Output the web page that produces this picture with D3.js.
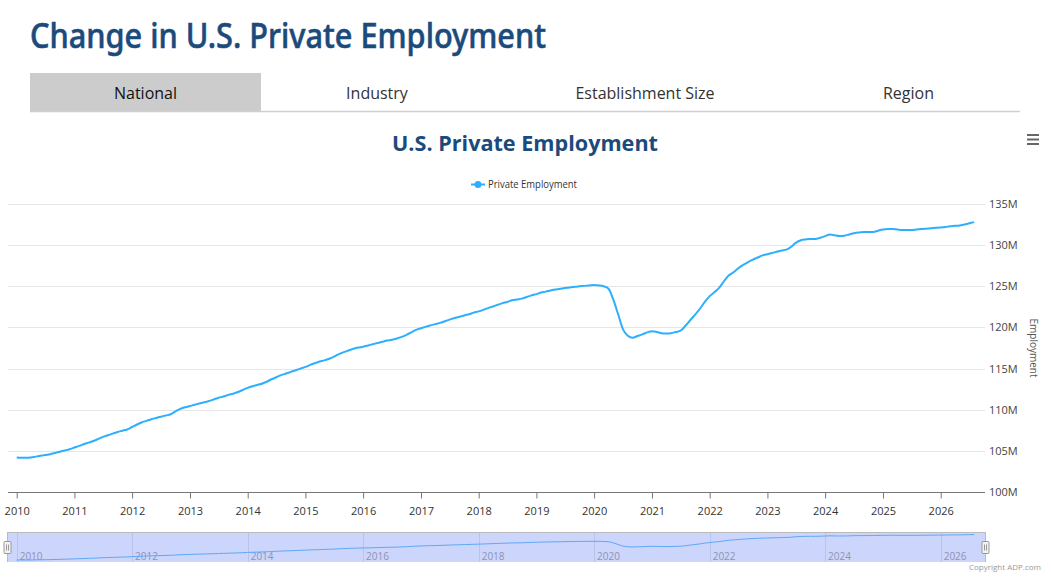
<!DOCTYPE html>
<html><head><meta charset="utf-8">
<script src="https://cdn.jsdelivr.net/npm/d3@7/dist/d3.min.js"></script>
<style>body{margin:0;background:#fff;} svg{display:block;font-family:"Open Sans",sans-serif;}</style>
</head><body><svg id="c" width="1051" height="578"></svg>
<script>
// ---------- DATA (monthly, millions) ----------
const firstYear = 2010;
const v2010 = [104.2,104.15,104.15,104.2,104.3,104.4,104.5,104.6,104.75,104.9,105.05,105.2];
const v2011 = [105.4,105.6,105.8,106.0,106.2,106.45,106.7,106.9,107.1,107.3,107.45,107.6];
const v2012 = [107.9,108.2,108.45,108.65,108.85,109.0,109.15,109.3,109.45,109.8,110.1,110.3];
const v2013 = [110.45,110.6,110.75,110.9,111.05,111.25,111.45,111.6,111.8,111.95,112.15,112.4];
const v2014 = [112.65,112.85,113.0,113.15,113.4,113.7,113.95,114.2,114.4,114.6,114.8,115.0];
const v2015 = [115.2,115.45,115.65,115.85,116.0,116.2,116.45,116.75,117.0,117.2,117.4,117.55];
const v2016 = [117.65,117.8,117.95,118.1,118.25,118.4,118.5,118.65,118.85,119.1,119.4,119.7];
const v2017 = [119.9,120.1,120.25,120.4,120.55,120.75,120.95,121.15,121.3,121.45,121.6,121.8];
const v2018 = [121.95,122.15,122.35,122.55,122.75,122.95,123.1,123.3,123.4,123.5,123.7,123.9];
const v2019 = [124.05,124.25,124.35,124.5,124.6,124.7,124.8,124.85,124.95,125.0,125.05,125.1];
const v2020 = [125.15,125.1,125.0,124.7,123.4,121.6,119.8,119.0,118.75,118.95,119.15,119.4];
const v2021 = [119.55,119.45,119.3,119.25,119.3,119.45,119.6,120.2,120.9,121.55,122.3,123.1];
const v2022 = [123.8,124.3,124.8,125.6,126.3,126.7,127.2,127.6,127.95,128.25,128.5,128.75];
const v2023 = [128.9,129.05,129.2,129.35,129.45,129.8,130.3,130.6,130.7,130.75,130.75,130.9];
const v2024 = [131.1,131.3,131.2,131.1,131.15,131.3,131.45,131.55,131.6,131.6,131.6,131.75];
const v2025 = [131.9,131.95,131.95,131.9,131.85,131.85,131.85,131.9,131.95,132.0,132.05,132.1];
const v2026 = [132.15,132.2,132.3,132.35,132.4,132.5,132.65,132.8];
const yearly = [v2010,v2011,v2012,v2013,v2014,v2015,v2016,v2017,v2018,v2019,v2020,v2021,v2022,v2023,v2024,v2025,v2026];

const seriesName = "Private Employment";
const pageTitle = "Change in U.S. Private Employment";
const chartTitle = "U.S. Private Employment";
const yAxisTitle = "Employment";
const tabLabels = ["National","Industry","Establishment Size","Region"];
const yTickValues = [100,105,110,115,120,125,130,135];
const xTickYears = d3.range(2010, 2027);
const navTickYears = d3.range(2010, 2027, 2);
const copyright = "Copyright ADP.com";

const data = [];
yearly.forEach((arr, yi) => arr.forEach((v, m) => data.push({date: new Date(firstYear + yi, m, 1), value: v})));

// ---------- LAYOUT ----------
const svg = d3.select("#c");
const blue = "#2caffe";
const darkBlue = "#1b4a7c";

svg.append("text").attr("x", 30).attr("y", 48)
  .attr("font-family", "Noto Sans, sans-serif").attr("font-size", 35).attr("font-weight", 500)
  .attr("fill", darkBlue).attr("stroke", darkBlue).attr("stroke-width", 0.6)
  .attr("textLength", 516).attr("lengthAdjust", "spacingAndGlyphs")
  .text(pageTitle);

// tabs
const tabEdges = [30, 261, 493, 797, 1020];
const tabG = svg.append("g");
tabLabels.forEach((t, i) => {
  if (i === 0) tabG.append("rect").attr("x", tabEdges[0]).attr("y", 73).attr("width", tabEdges[1]-tabEdges[0]).attr("height", 38).attr("fill", "#cccccc");
  tabG.append("text").attr("x", (tabEdges[i]+tabEdges[i+1])/2).attr("y", 99)
    .attr("text-anchor", "middle").attr("font-size", 16)
    .attr("fill", i === 0 ? "#111" : "#333").text(t);
});
tabG.append("line").attr("x1", 30).attr("x2", 1020).attr("y1", 111.5).attr("y2", 111.5).attr("stroke", "#cfcfcf").attr("stroke-width", 1.5);

// chart title
svg.append("text").attr("x", 525).attr("y", 151).attr("text-anchor", "middle")
  .attr("font-size", 21.6).attr("font-weight", "bold").attr("fill", darkBlue).text(chartTitle);

// menu icon
[135, 139.5, 144].forEach(y => svg.append("rect").attr("x", 1027).attr("y", y - 1).attr("width", 12).attr("height", 2).attr("fill", "#666"));

// legend
svg.append("line").attr("x1", 471).attr("x2", 485).attr("y1", 184.5).attr("y2", 184.5).attr("stroke", blue).attr("stroke-width", 2);
svg.append("circle").attr("cx", 478).attr("cy", 184.5).attr("r", 3.5).attr("fill", blue);
svg.append("text").attr("x", 488).attr("y", 188).attr("font-size", 10).attr("fill", "#333")
  .attr("textLength", 89).attr("lengthAdjust", "spacingAndGlyphs").text(seriesName);

// scales
const x = d3.scaleTime().domain([new Date(2010,0,1), new Date(2026,0,1)]).range([16.7, 940.7]);
const plotLeft = 8, plotRight = 985;
const y = d3.scaleLinear().domain([100, 135]).range([492, 204]);

// gridlines
svg.append("g").selectAll("line").data(yTickValues.slice(1)).join("line")
  .attr("x1", plotLeft).attr("x2", plotRight).attr("y1", d => Math.round(y(d)) + 0.5).attr("y2", d => Math.round(y(d)) + 0.5)
  .attr("stroke", "#e6e6e6").attr("stroke-width", 1);

// y axis labels (right)
svg.append("g").selectAll("text").data(yTickValues).join("text")
  .attr("x", 989).attr("y", d => y(d) + 4).attr("font-size", 11).attr("fill", "#444")
  .text(d => d + "M");
svg.append("text").attr("transform", "translate(1030," + y(117.5) + ") rotate(90)")
  .attr("text-anchor", "middle").attr("font-size", 10).attr("fill", "#555").text(yAxisTitle);

// x axis
const xAxis = d3.axisBottom(x).tickValues(xTickYears.map(yr => new Date(yr,0,1)))
  .tickFormat(d3.timeFormat("%Y")).tickSize(6).tickSizeOuter(0);
const xg = svg.append("g").attr("transform", "translate(0,492.5)").call(xAxis);
xg.select(".domain").attr("d", `M${plotLeft},0H${plotRight}`).attr("stroke", "#777");
xg.selectAll(".tick line").attr("stroke", "#777");
xg.selectAll(".tick text").attr("font-size", 11).attr("fill", "#333").attr("font-family", "Open Sans, sans-serif").attr("dy", "1.25em");

// main line
const line = d3.line().x(d => x(d.date)).y(d => y(d.value)).curve(d3.curveMonotoneX);
svg.append("path").datum(data).attr("d", line).attr("fill", "none").attr("stroke", blue).attr("stroke-width", 2);

// navigator
const navTop = 532, navBottom = 562;
svg.append("rect").attr("x", 7).attr("y", navTop).attr("width", 979).attr("height", navBottom - navTop).attr("fill", "#ccd5fb");
svg.append("g").selectAll("line").data(navTickYears).join("line")
  .attr("x1", d => Math.round(x(new Date(d,0,1))) + 0.5).attr("x2", d => Math.round(x(new Date(d,0,1))) + 0.5)
  .attr("y1", navTop).attr("y2", navBottom).attr("stroke", "#bcc3e8").attr("stroke-width", 1);
svg.append("g").selectAll("text").data(navTickYears).join("text")
  .attr("x", d => x(new Date(d,0,1)) + 3).attr("y", 560).attr("font-size", 10).attr("fill", "#8e93b4").text(d => d);
const yNav = d3.scaleLinear().domain(d3.extent(data, d => d.value)).range([560, 534.5]);
const navLine = d3.line().x(d => x(d.date)).y(d => yNav(d.value)).curve(d3.curveMonotoneX);
svg.append("path").datum(data).attr("d", navLine).attr("fill", "none").attr("stroke", "#5fa8f5").attr("stroke-width", 1);
svg.append("line").attr("x1", 7).attr("x2", 986).attr("y1", navTop + 0.5).attr("y2", navTop + 0.5).attr("stroke", "#bbb");
svg.append("line").attr("x1", 7.5).attr("x2", 7.5).attr("y1", navTop).attr("y2", navBottom).attr("stroke", "#bbb");
svg.append("line").attr("x1", 985.5).attr("x2", 985.5).attr("y1", navTop).attr("y2", navBottom).attr("stroke", "#bbb");
[7.5, 985.5].forEach(hx => {
  svg.append("rect").attr("x", hx - 3.5).attr("y", 541.5).attr("width", 7).attr("height", 12).attr("rx", 1)
    .attr("fill", "#f2f2f2").attr("stroke", "#999");
  svg.append("line").attr("x1", hx - 1).attr("x2", hx - 1).attr("y1", 544.5).attr("y2", 550.5).attr("stroke", "#999");
  svg.append("line").attr("x1", hx + 1).attr("x2", hx + 1).attr("y1", 544.5).attr("y2", 550.5).attr("stroke", "#999");
});

// credits
svg.append("text").attr("x", 1041).attr("y", 570).attr("text-anchor", "end").attr("font-size", 8).attr("fill", "#999").text(copyright);
</script></body></html>
